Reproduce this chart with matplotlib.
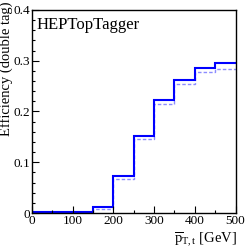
import matplotlib
matplotlib.use("Agg")
import matplotlib.pyplot as plt
from matplotlib.ticker import MultipleLocator

# bin edges in pT [GeV] and efficiencies
edges = [0, 50, 100, 150, 200, 250, 300, 350, 400, 450, 500]
eff_solid = [0.001, 0.001, 0.001, 0.012, 0.072, 0.152, 0.223, 0.262, 0.286, 0.295]
eff_dashed = [0.001, 0.001, 0.001, 0.007, 0.067, 0.146, 0.214, 0.254, 0.278, 0.284]


def main() -> None:
    plt.rcParams.update(
        {
            "font.family": "Liberation Serif",
            "mathtext.fontset": "custom",
            "mathtext.rm": "Liberation Serif",
            "mathtext.it": "Liberation Serif:italic",
            "font.size": 9,
        }
    )
    W, H = 248, 249
    fig = plt.figure(figsize=(W / 100, H / 100), dpi=100)
    ax = fig.add_axes([32 / W, 1 - 213 / H, 203.5 / W, 203 / H])

    ax.stairs(eff_dashed, edges, color="#8c8cff", linewidth=1.0, linestyle=(0, (2.5, 1.5)), baseline=None)
    ax.stairs(eff_solid, edges, color="#0000ff", linewidth=1.5, baseline=None)

    ax.set_xlim(0, 500)
    ax.set_ylim(0, 0.4)
    ax.xaxis.set_major_locator(MultipleLocator(100))
    ax.xaxis.set_minor_locator(MultipleLocator(50))
    ax.yaxis.set_minor_locator(MultipleLocator(0.02))
    ax.set_yticks([0, 0.1, 0.2, 0.3, 0.4])
    ax.set_yticklabels(["0", "0.1", "0.2", "0.3", "0.4"])
    ax.tick_params(which="both", direction="in", top=False, right=False, labelsize=9.5, pad=1.5)
    ax.tick_params(which="major", length=5, width=0.8)
    ax.tick_params(which="minor", length=2.5, width=0.8)
    for s in ax.spines.values():
        s.set_linewidth(1.0)

    fig.text(237 / W, 1 - 240 / H, r"$\overline{\mathrm{p}}_{\mathrm{T,t}}$ [GeV]",
             fontsize=10.5, ha="right", va="center")
    fig.text(6.5 / W, 1 - 2 / H, "Efficiency (double tag)", fontsize=10.5,
             rotation=90, ha="center", va="top")

    ax.text(0.02, 0.965, "HEPTopTagger", transform=ax.transAxes, fontsize=12, ha="left", va="top")

    fig.savefig("out.png", dpi=100)


if __name__ == "__main__":
    main()
